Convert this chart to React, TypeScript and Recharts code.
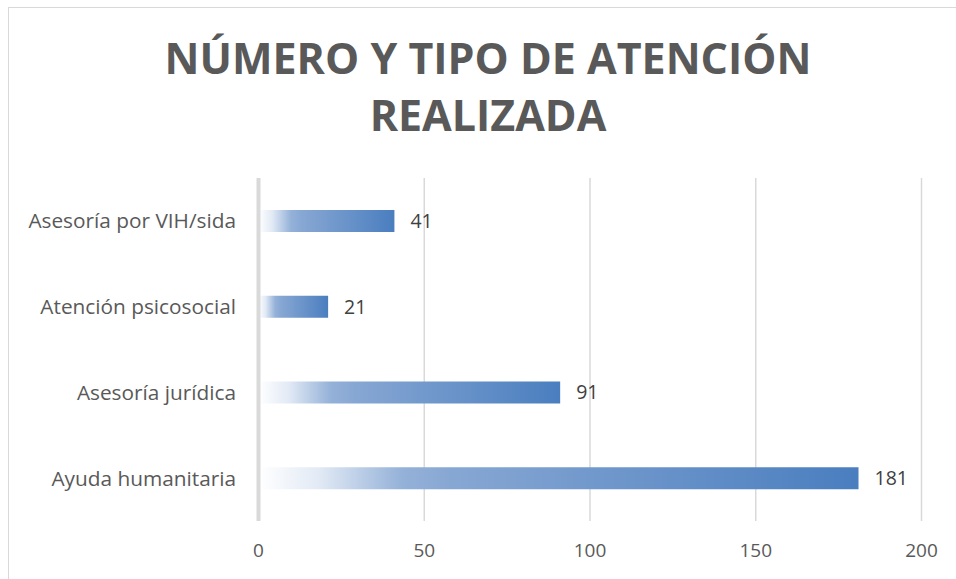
import React from "react";
import { BarChart, Bar, XAxis, YAxis, CartesianGrid, LabelList } from "recharts";

const categories = ["Asesoría por VIH/sida", "Atención psicosocial", "Asesoría jurídica", "Ayuda humanitaria"];
const values = [41, 21, 91, 181];
const xTicks = [0, 50, 100, 150, 200];
const titleLines = ["NÚMERO Y TIPO DE ATENCIÓN", "REALIZADA"];

const data = categories.map((c, i) => ({ name: c, value: values[i] }));

const FONT = "'Open Sans', sans-serif";

export default function App() {
  return (
    <div style={{ position: "fixed", left: 0, top: 0, width: 956, height: 579, overflow: "hidden", background: "#fff", fontFamily: FONT }}>
      <div style={{ position: "absolute", left: 8, top: 7, width: 960, height: 590, borderLeft: "1px solid #d9d9d9", borderTop: "1px solid #d9d9d9" }} />
      <div style={{ position: "absolute", left: 0, top: 29, width: 976, textAlign: "center", fontWeight: 700, fontSize: 43, color: "#595959", lineHeight: "57px", fontFamily: FONT }}>
        {titleLines.map((t) => (
          <div key={t}>{t}</div>
        ))}
      </div>
      <div style={{ position: "absolute", left: 0, top: 0 }}>
        <BarChart
          width={956}
          height={579}
          data={data}
          layout="vertical"
          margin={{ top: 178, right: 34.5, bottom: 18, left: 0 }}
        >
          <defs>
            <linearGradient id="barGrad" x1="0" y1="0" x2="1" y2="0">
              <stop offset="0" stopColor="#ffffff" />
              <stop offset="0.1" stopColor="#e2eaf5" />
              <stop offset="0.24" stopColor="#94b1d8" />
              <stop offset="0.32" stopColor="#87a7d3" />
              <stop offset="1" stopColor="#4a7ebf" />
            </linearGradient>
          </defs>
          <CartesianGrid horizontal={false} stroke="#d9d9d9" strokeWidth={1.5} />
          <XAxis
            type="number"
            domain={[0, 200]}
            ticks={xTicks}
            axisLine={false}
            tickLine={false}
            height={40}
            tick={{ fill: "#595959", fontSize: 19, fontFamily: FONT }}
            tickMargin={17}
            interval={0}
          />
          <YAxis
            type="category"
            dataKey="name"
            width={258.5}
            axisLine={{ stroke: "#d9d9d9", strokeWidth: 4 }}
            tickLine={false}
            tick={{ fill: "#595959", fontSize: 20.8, fontFamily: FONT }}
            tickMargin={16.5}
            interval={0}
          />
          <Bar dataKey="value" fill="url(#barGrad)" barSize={22} isAnimationActive={false}>
            <LabelList dataKey="value" position="right" offset={16} fill="#404040" fontSize={19.5} fontFamily={FONT} />
          </Bar>
        </BarChart>
      </div>
    </div>
  );
}
